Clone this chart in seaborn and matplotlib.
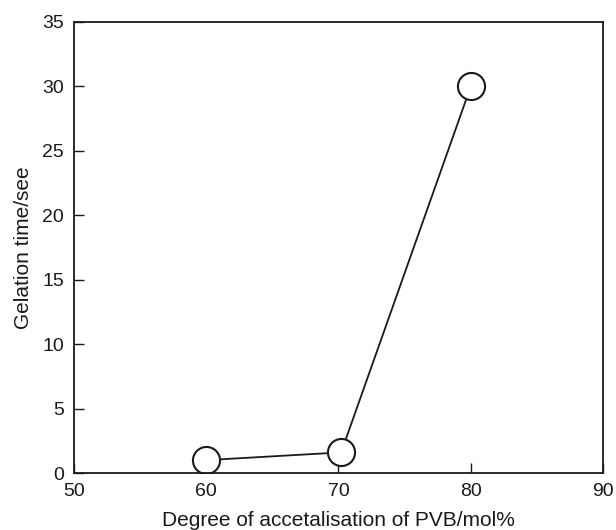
import matplotlib
matplotlib.use("Agg")
import matplotlib.pyplot as plt
import seaborn as sns

# degree of acetalisation vs gelation time
degree = [60, 70.2, 80]
gel_time = [1.0, 1.6, 30.0]

sns.set_style("ticks")
plt.rcParams['font.family'] = ['Liberation Sans', 'DejaVu Sans']

fig = plt.figure(figsize=(6.16, 5.30), dpi=100)
ax = fig.add_axes([0.120, 0.1075, 0.859, 0.851])

sns.lineplot(x=degree, y=gel_time, ax=ax, color='#1a1a1a', linewidth=1.3,
             marker='o', markersize=19.5, markerfacecolor='white',
             markeredgecolor='#1a1a1a', markeredgewidth=1.5)

ax.set_xlim(50, 90)
ax.set_ylim(0, 35)
ax.set_xticks([50, 60, 70, 80, 90])
ax.set_yticks([0, 5, 10, 15, 20, 25, 30, 35])
ax.tick_params(direction='in', length=7, width=1, colors='#1a1a1a',
               labelsize=14, labelcolor='#1a1a1a', pad=7)
for s in ax.spines.values():
    s.set_linewidth(1.3)
    s.set_color('#1a1a1a')

ax.set_xlabel('Degree of accetalisation of PVB/mol%', fontsize=15, color='#1a1a1a', labelpad=8)
ax.set_ylabel('Gelation time/see', fontsize=15, color='#1a1a1a', labelpad=7)

fig.savefig('out.png', dpi=100)
